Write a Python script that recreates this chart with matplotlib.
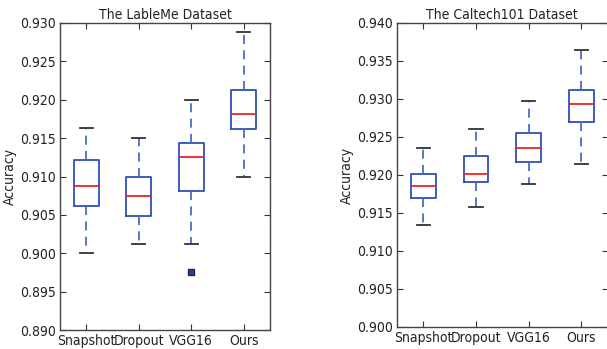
import matplotlib
matplotlib.use("Agg")
import matplotlib.pyplot as plt

plt.rcParams['font.family'] = ['DejaVu Sans']
plt.rcParams['font.stretch'] = 'condensed'
plt.rcParams['font.size'] = 10

methods = ["Snapshot", "Dropout", "VGG16", "Ours"]

# LabelMe dataset box statistics
lm_whislo = [0.9000, 0.9012, 0.9012, 0.9100]
lm_q1     = [0.9062, 0.9049, 0.9081, 0.9162]
lm_med    = [0.9087, 0.9075, 0.9125, 0.9181]
lm_q3     = [0.9122, 0.9100, 0.9143, 0.9213]
lm_whishi = [0.9163, 0.9150, 0.9200, 0.9288]
lm_fliers = [[], [], [0.8975], []]

# Caltech101 dataset box statistics
ct_whislo = [0.9134, 0.9158, 0.9188, 0.9214]
ct_q1     = [0.9170, 0.9191, 0.9217, 0.9270]
ct_med    = [0.9185, 0.9201, 0.9236, 0.9293]
ct_q3     = [0.9201, 0.9225, 0.9255, 0.9312]
ct_whishi = [0.9235, 0.9261, 0.9298, 0.9365]
ct_fliers = [[], [], [], []]

W, H = 607, 349
fig = plt.figure(figsize=(W / 100, H / 100), dpi=100)
ax1 = fig.add_axes([60 / W, (H - 330) / H, 210 / W, 307 / H])
ax2 = fig.add_axes([397 / W, (H - 327) / H, 210.5 / W, 304 / H])

box_c = '#2f4fb5'
whisk_c = '#4a6cc8'


def draw(ax, lo, q1, med, q3, hi, fl, title, ylim, yticks):
    stats = []
    for i in range(len(methods)):
        stats.append(dict(whislo=lo[i], q1=q1[i], med=med[i], q3=q3[i],
                          whishi=hi[i], fliers=fl[i], label=methods[i]))
    ax.bxp(stats, positions=range(1, len(methods) + 1), widths=0.47,
           boxprops=dict(color=box_c, linewidth=1.3),
           whiskerprops=dict(color=whisk_c, linewidth=1.3, linestyle=(0, (5, 3.5))),
           capprops=dict(color='#333333', linewidth=1.3),
           medianprops=dict(color='#ee2222', linewidth=1.3),
           flierprops=dict(marker='s', markerfacecolor='#2244aa',
                           markeredgecolor='#222244', markersize=5,
                           linestyle='none'),
           capwidths=0.25)
    ax.set_xlim(0.5, len(methods) + 0.5)
    ax.set_ylim(*ylim)
    ax.set_yticks(yticks)
    ax.set_yticklabels([f"{t:.3f}" for t in yticks])
    ax.set_xticks(range(1, len(methods) + 1))
    ax.set_xticklabels(methods)
    ax.tick_params(direction='in', top=True, right=True, length=4,
                   width=0.8, color='#333333', labelcolor='#222222', pad=3)
    for s in ax.spines.values():
        s.set_color('#444444')
        s.set_linewidth(1.0)
    ax.set_title(title, fontsize=10, pad=3, color='#222222')
    ax.set_ylabel("Accuracy", color='#222222', labelpad=2)


lm_ticks = [0.890, 0.895, 0.900, 0.905, 0.910, 0.915, 0.920, 0.925, 0.930]
ct_ticks = [0.900, 0.905, 0.910, 0.915, 0.920, 0.925, 0.930, 0.935, 0.940]
draw(ax1, lm_whislo, lm_q1, lm_med, lm_q3, lm_whishi, lm_fliers,
     "The LableMe Dataset", (0.890, 0.930), lm_ticks)
draw(ax2, ct_whislo, ct_q1, ct_med, ct_q3, ct_whishi, ct_fliers,
     "The Caltech101 Dataset", (0.900, 0.940), ct_ticks)

fig.savefig("out.png", dpi=100)
